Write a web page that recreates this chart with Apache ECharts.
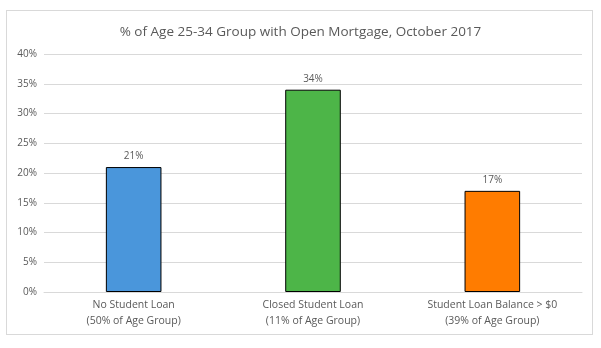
<!DOCTYPE html>
<html><head><meta charset="utf-8">
<script src="https://cdn.jsdelivr.net/npm/echarts@6/dist/echarts.min.js"></script>
<style>html,body{margin:0;padding:0;background:#fff}#wrap{position:absolute;left:6px;top:10px;width:585px;height:323px;border:1px solid #d9d9d9;}#c{position:absolute;left:0;top:0;width:601px;height:348px;}</style>
</head><body><div id="wrap"></div><div id="c"></div>
<script>
const categories = ['No Student Loan\n(50% of Age Group)', 'Closed Student Loan\n(11% of Age Group)', 'Student Loan Balance > $0\n(39% of Age Group)'];
const values = [21, 34, 17];
const colors = ['#4A96DB', '#4DB548', '#FF7C00'];
const title = '% of Age 25-34 Group with Open Mortgage, October 2017';
const chart = echarts.init(document.getElementById('c'), null, {renderer: 'canvas'});
const font = 'Open Sans';
chart.setOption({
  animation: false,
  title: {text: title, left: 'center', top: 20, textStyle: {fontFamily: font, fontSize: 13.5, fontWeight: 'normal', color: '#595959'}},
  grid: {left: 44, right: 19, top: 54, bottom: 56},
  xAxis: {type: 'category', data: categories, axisTick: {show: false},
    axisLine: {lineStyle: {color: '#d9d9d9'}},
    axisLabel: {fontFamily: font, fontSize: 10.5, color: '#595959', lineHeight: 16, margin: 5}},
  yAxis: {type: 'value', min: 0, max: 40, interval: 5,
    axisLabel: {formatter: '{value}%', fontFamily: font, fontSize: 10, color: '#595959', margin: 7},
    splitLine: {lineStyle: {color: '#d9d9d9'}}, axisLine: {show: false}, axisTick: {show: false}},
  series: [{type: 'bar', barWidth: '31%',
    data: values.map((v, i) => ({value: v, itemStyle: {color: colors[i]}})),
    itemStyle: {borderColor: '#000', borderWidth: 1},
    label: {show: true, position: 'top', formatter: '{c}%', fontFamily: font, fontSize: 10, color: '#595959', distance: 6}}]
});
</script></body></html>
